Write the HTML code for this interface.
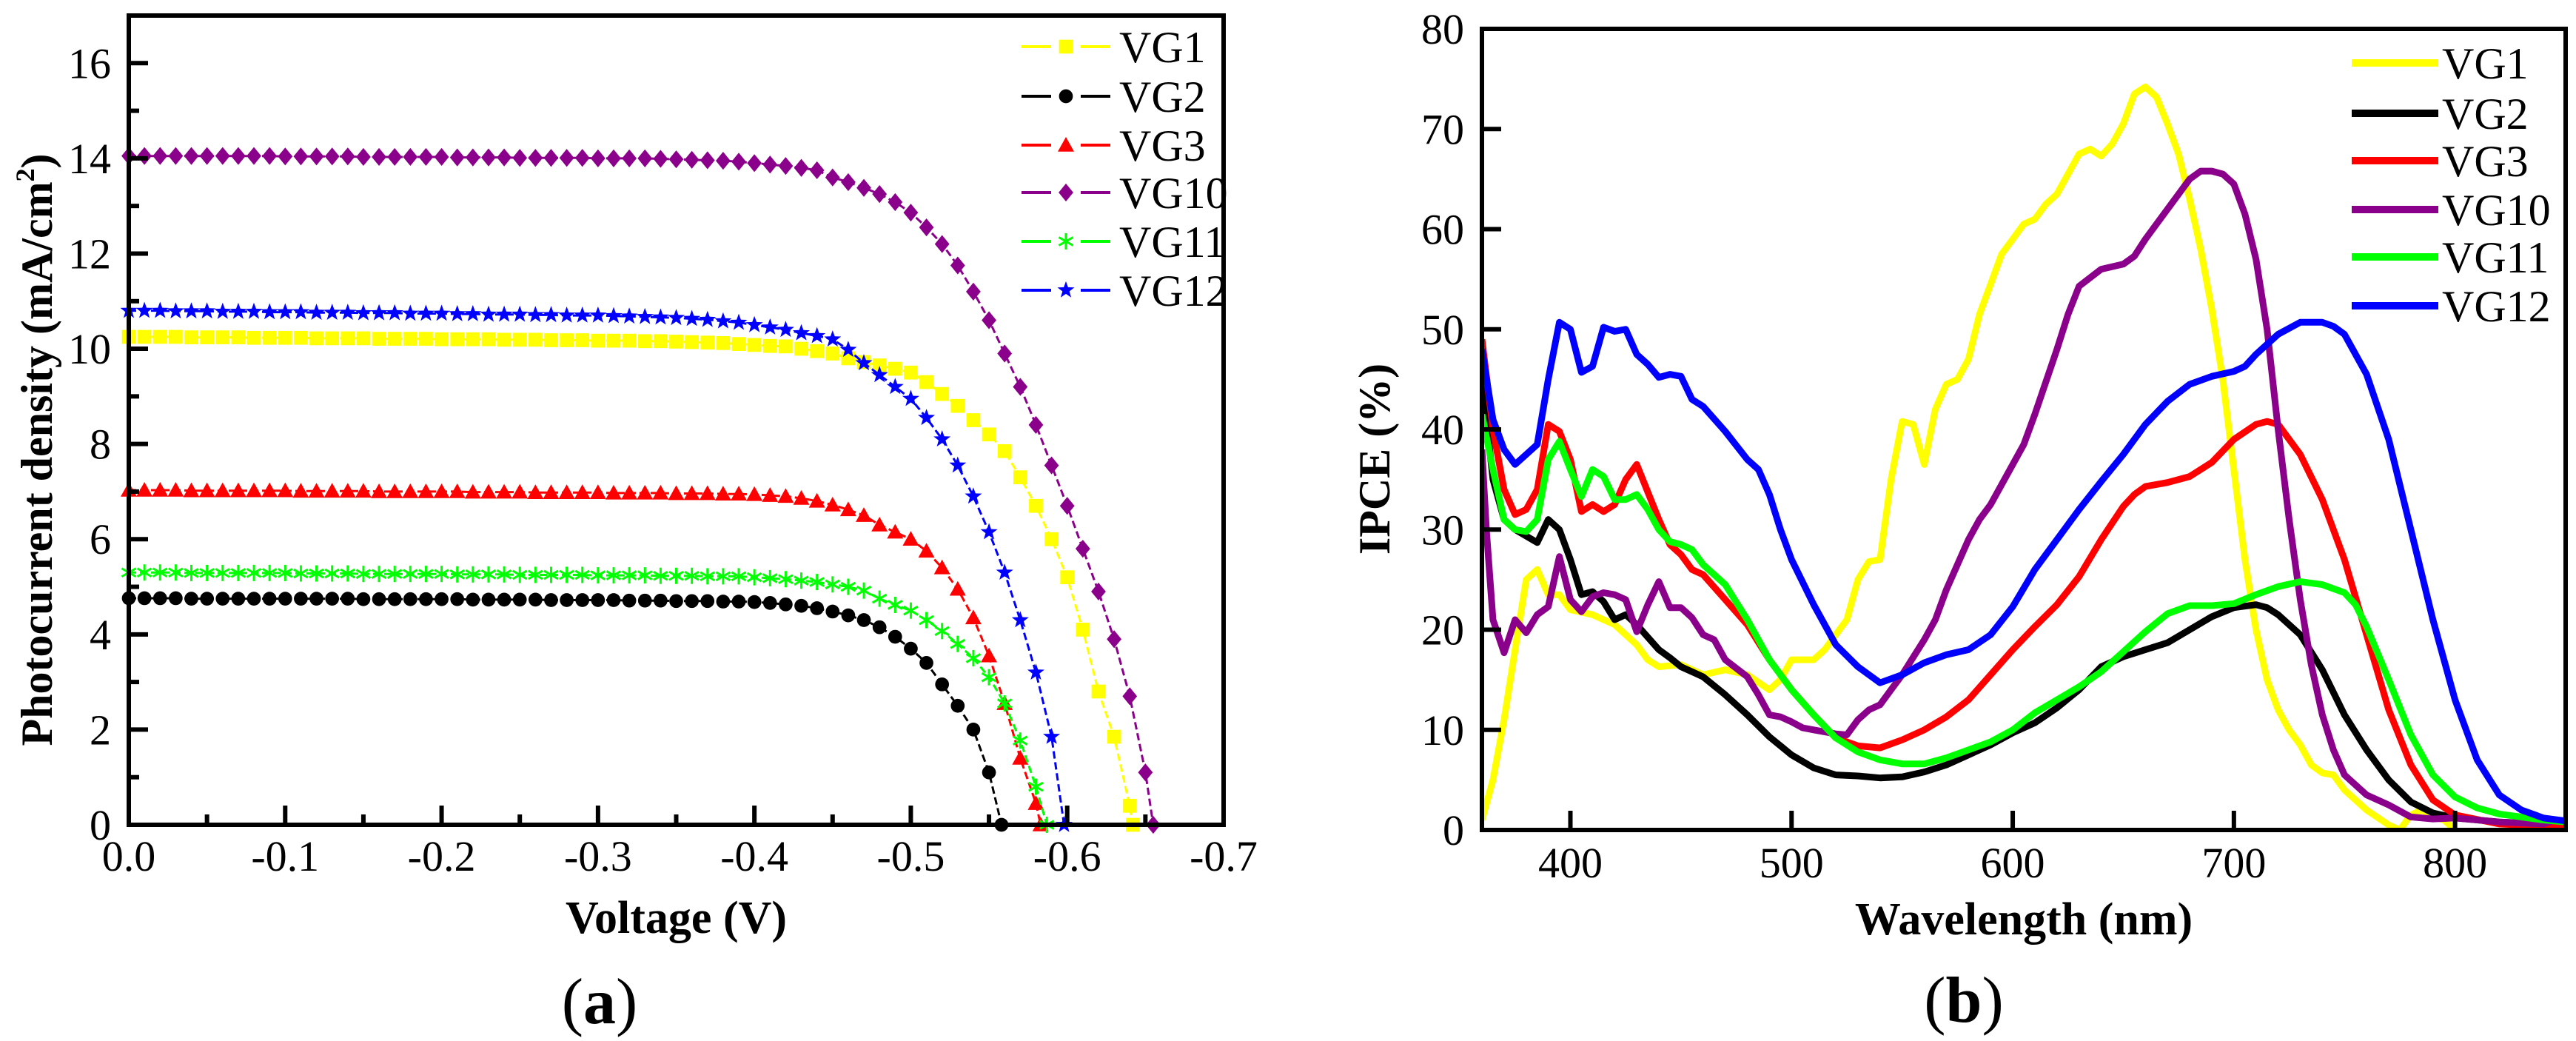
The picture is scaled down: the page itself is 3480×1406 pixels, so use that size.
<!DOCTYPE html>
<html><head><meta charset="utf-8">
<style>
html,body{margin:0;padding:0;background:#fff;}
svg{display:block;}
svg text{font-family:"Liberation Serif","Noto Serif CJK SC","DejaVu Serif",serif;fill:#000;}
</style></head>
<body>
<svg id="fig" width="3480" height="1406" viewBox="0 0 3480 1406" xmlns="http://www.w3.org/2000/svg"></svg>
<script>
// ---------- Panel (a) data: J-V curves ----------
const jvNames = ["VG1","VG2","VG3","VG10","VG11","VG12"];
const jvColors = ["#ffff00","#000000","#ff0000","#8b008b","#00ff00","#0000ff"];
const jvMarkers = ["square","circle","triangle","diamond","star6","star5"];
const jvVgrid = [0,-0.01,-0.02,-0.03,-0.04,-0.05,-0.06,-0.07,-0.08,-0.09,-0.1,-0.11,-0.12,-0.13,-0.14,-0.15,-0.16,-0.17,-0.18,-0.19,-0.2,-0.21,-0.22,-0.23,-0.24,-0.25,-0.26,-0.27,-0.28,-0.29,-0.3,-0.31,-0.32,-0.33,-0.34,-0.35,-0.36,-0.37,-0.38,-0.39,-0.4,-0.41,-0.42,-0.43,-0.44,-0.45,-0.46,-0.47,-0.48,-0.49,-0.5,-0.51,-0.52,-0.53,-0.54,-0.55,-0.56,-0.57,-0.58,-0.59,-0.6,-0.61,-0.62,-0.63,-0.64,-0.65];
const jvJ_VG1 = [10.25,10.25,10.25,10.25,10.24,10.24,10.24,10.24,10.23,10.23,10.23,10.23,10.22,10.22,10.22,10.22,10.21,10.21,10.21,10.21,10.2,10.2,10.2,10.2,10.19,10.19,10.19,10.18,10.18,10.18,10.17,10.17,10.17,10.16,10.16,10.15,10.14,10.13,10.12,10.1,10.08,10.06,10.05,10.0,9.95,9.9,9.8,9.72,9.65,9.58,9.5,9.3,9.05,8.8,8.5,8.2,7.85,7.3,6.7,6.0,5.2,4.1,2.8,1.85,0.4];
const jvJ_VG2 = [4.76,4.76,4.76,4.76,4.75,4.75,4.75,4.75,4.75,4.75,4.75,4.75,4.75,4.75,4.75,4.74,4.74,4.74,4.74,4.74,4.74,4.74,4.73,4.73,4.73,4.73,4.73,4.72,4.72,4.72,4.72,4.72,4.71,4.71,4.71,4.7,4.7,4.7,4.69,4.69,4.68,4.66,4.63,4.6,4.55,4.48,4.4,4.3,4.15,3.95,3.7,3.4,2.95,2.5,2.0,1.1];
const jvJ_VG3 = [7.03,7.03,7.03,7.03,7.02,7.02,7.02,7.02,7.02,7.02,7.02,7.01,7.01,7.01,7.01,7.01,7.0,7.0,7.0,7.0,7.0,7.0,6.99,6.99,6.99,6.99,6.98,6.98,6.98,6.98,6.98,6.97,6.97,6.97,6.97,6.96,6.96,6.96,6.95,6.95,6.94,6.92,6.9,6.86,6.8,6.72,6.62,6.5,6.3,6.15,6.0,5.75,5.4,4.95,4.35,3.55,2.55,1.4,0.45];
const jvJ_VG10 = [14.05,14.05,14.05,14.05,14.05,14.05,14.05,14.05,14.05,14.05,14.04,14.04,14.04,14.04,14.04,14.03,14.03,14.03,14.03,14.03,14.03,14.02,14.02,14.02,14.02,14.01,14.01,14.01,14.01,14.01,14.0,14.0,14.0,14.0,13.99,13.98,13.97,13.96,13.95,13.93,13.9,13.87,13.84,13.8,13.75,13.6,13.5,13.38,13.25,13.08,12.86,12.55,12.2,11.75,11.2,10.6,9.9,9.2,8.4,7.55,6.7,5.8,4.9,3.9,2.7,1.1];
const jvJ_VG11 = [5.3,5.3,5.3,5.3,5.29,5.29,5.29,5.29,5.29,5.29,5.29,5.28,5.28,5.28,5.28,5.27,5.27,5.27,5.27,5.27,5.27,5.26,5.26,5.26,5.26,5.25,5.25,5.25,5.25,5.25,5.24,5.24,5.24,5.24,5.23,5.23,5.23,5.22,5.22,5.22,5.2,5.18,5.16,5.13,5.1,5.05,5.0,4.92,4.75,4.62,4.5,4.3,4.07,3.8,3.5,3.1,2.55,1.77,0.8];
const jvJ_VG12 = [10.8,10.8,10.8,10.79,10.79,10.79,10.78,10.78,10.78,10.77,10.77,10.77,10.76,10.76,10.76,10.75,10.75,10.75,10.74,10.74,10.74,10.73,10.73,10.72,10.72,10.72,10.71,10.71,10.7,10.7,10.7,10.69,10.68,10.67,10.66,10.65,10.63,10.61,10.58,10.55,10.5,10.45,10.4,10.33,10.27,10.2,9.98,9.7,9.45,9.2,8.95,8.55,8.1,7.55,6.9,6.15,5.3,4.3,3.2,1.85];
const jvVoc = [-0.642,-0.558,-0.583,-0.655,-0.587,-0.598];
const jvJs = [jvJ_VG1,jvJ_VG2,jvJ_VG3,jvJ_VG10,jvJ_VG11,jvJ_VG12];
const jvXTicks = [0,-0.1,-0.2,-0.3,-0.4,-0.5,-0.6,-0.7];
const jvXTickLabels = ["0.0","-0.1","-0.2","-0.3","-0.4","-0.5","-0.6","-0.7"];
const jvYTicks = [0,2,4,6,8,10,12,14,16];

// ---------- Panel (b) data: IPCE ----------
const ipNames = ["VG1","VG2","VG3","VG10","VG11","VG12"];
const ipColors = ["#ffff00","#000000","#ff0000","#8b008b","#00ff00","#0000ff"];
const ipW_VG1 = [360,365,370,375,380,385,390,395,400,410,420,430,435,440,450,460,470,480,490,495,500,510,515,520,525,530,535,540,545,550,555,560,565,570,575,580,585,590,595,600,605,610,615,620,625,630,635,640,645,650,655,660,665,670,675,680,685,690,695,700,705,710,715,720,725,730,735,740,745,750,760,770,775,780,785,790,795,800];
const ipY_VG1 = [1,5,11,18,25,26,23.5,23.5,22,21.5,20.5,18.5,17,16.3,16.5,15.5,16,15.5,14,15,17,17,18,19.5,21,25,26.8,27,35,40.8,40.5,36.5,42,44.5,45,47,51.5,54.5,57.5,59,60.5,61,62.5,63.5,65.5,67.5,68,67.3,68.5,70.5,73.5,74.2,73.2,70.5,67.5,63,58,52,45,36,27,20,15,12,10,8.5,6.5,5.7,5.5,4,2,0.5,0,1.5,2,1.3,1,0];
const ipW_VG2 = [360,365,370,375,385,390,395,400,405,410,415,420,425,430,440,445,450,460,470,480,490,500,510,520,530,540,550,560,570,580,590,600,610,620,630,640,650,660,670,680,690,700,710,715,720,730,740,750,760,770,780,790,800,820,850];
const ipY_VG2 = [45,35,31,30,28.7,31,30,27,23.5,23.8,22.8,21,21.5,20.5,18,17.2,16.3,15.3,13.5,11.5,9.3,7.5,6.2,5.5,5.4,5.2,5.3,5.8,6.5,7.5,8.5,9.7,10.7,12.2,14,16.3,17.3,18,18.7,20,21.3,22.2,22.5,22.2,21.5,19.5,16,11.5,8,5,2.8,1.7,1.2,0.8,0.5];
const ipW_VG3 = [360,365,370,375,380,385,390,395,400,405,410,415,420,425,430,440,445,450,455,460,470,480,490,500,510,520,530,540,550,560,570,580,590,600,610,620,630,640,650,655,660,670,680,690,700,710,715,720,730,740,750,760,770,780,790,800,820,850];
const ipY_VG3 = [49,40,34,31.5,32,34,40.5,39.8,37,31.8,32.5,31.8,32.5,35,36.5,31,28.5,27.5,26,25.5,23,20.5,17,14,11.5,9.2,8.4,8.2,9,10,11.3,13,15.5,18,20.3,22.5,25.3,29,32.3,33.5,34.3,34.7,35.3,36.7,39,40.5,40.8,40.5,37.5,33,27,19.5,12,6.5,3,1.5,0.6,0.3];
const ipW_VG10 = [360,362,365,370,375,380,385,390,395,400,405,410,415,420,425,430,435,440,445,450,455,460,465,470,480,485,490,495,500,505,510,520,525,530,535,540,545,550,560,565,570,580,585,590,600,605,610,620,625,630,640,650,655,660,670,680,685,690,695,700,705,710,715,720,725,730,735,740,745,750,760,770,780,790,800,820,840,845,850];
const ipY_VG10 = [38,30,21,17.7,21,19.7,21.5,22.3,27.3,23,21.8,23.3,23.7,23.5,23,19.8,22.5,24.8,22.2,22.2,21.2,19.5,19,17,15.3,13.5,11.5,11.3,10.8,10.2,10,9.6,9.5,11,12,12.5,14,15.5,19,21,24,29,31,32.5,36.5,38.5,41.5,48,51.5,54.3,56,56.5,57.3,59,62,65,65.8,65.8,65.5,64.5,61.5,57,50,40,31,23,16.5,11.5,8,5.5,3.5,2.5,1.3,1.1,1.2,0.8,0.6,1,0.8];
const ipW_VG11 = [360,365,370,375,380,385,390,395,400,405,410,415,420,425,430,435,440,445,450,455,460,470,480,490,500,510,520,530,540,550,560,570,580,590,600,610,620,630,640,650,660,670,680,690,700,710,720,730,740,750,755,760,770,780,790,800,810,820,840,850];
const ipY_VG11 = [41.5,36,31,30,29.8,31,37,38.8,36,33.3,36,35.3,33,33,33.5,32,30,28.8,28.5,28,26.5,24.5,21,17,14,11.5,9.2,7.8,7,6.6,6.6,7.2,8,8.8,10,11.7,13,14.3,15.8,17.8,19.8,21.6,22.4,22.4,22.6,23.5,24.3,24.8,24.5,23.7,22.5,20.3,15,9.5,5.5,3.3,2.2,1.6,1,0.8];
const ipW_VG12 = [360,365,370,375,380,385,390,395,400,405,410,415,420,425,430,435,440,445,450,455,460,470,480,485,490,495,500,510,520,530,540,550,560,570,580,590,600,610,620,630,640,650,660,670,680,690,700,705,710,720,730,740,745,750,760,770,780,790,800,810,820,830,840,850];
const ipY_VG12 = [48,41,38,36.5,37.5,38.5,45,50.7,50,45.7,46.3,50.2,49.8,50,47.5,46.5,45.2,45.5,45.3,43,42.3,39.8,37,36,33.5,30,27,22.5,18.5,16.3,14.7,15.5,16.7,17.5,18,19.5,22.3,26,29,32,34.8,37.5,40.5,42.8,44.5,45.3,45.8,46.3,47.5,49.5,50.7,50.7,50.3,49.5,45.5,39,30,21,13,7,3.5,2,1.2,0.9];
const ipWs = [ipW_VG1,ipW_VG2,ipW_VG3,ipW_VG10,ipW_VG11,ipW_VG12];
const ipYs = [ipY_VG1,ipY_VG2,ipY_VG3,ipY_VG10,ipY_VG11,ipY_VG12];
const ipXTicks = [400,500,600,700,800];
const ipYTicks = [0,10,20,30,40,50,60,70,80];

const NS = "http://www.w3.org/2000/svg";
const svg = document.getElementById("fig");
function mk(tag, attrs, parent){
  const e = document.createElementNS(NS, tag);
  for (const k in attrs) e.setAttribute(k, attrs[k]);
  (parent||svg).appendChild(e);
  return e;
}
function drawMarker(type,x,y,r,c,parent){
  if(type==="square") return mk("rect",{x:x-r*0.85,y:y-r*0.85,width:r*1.7,height:r*1.7,fill:c},parent);
  if(type==="circle") return mk("circle",{cx:x,cy:y,r:r*0.85,fill:c},parent);
  if(type==="triangle") return mk("polygon",{points:`${x},${y-r} ${x-r},${y+r*0.8} ${x+r},${y+r*0.8}`,fill:c},parent);
  if(type==="diamond") return mk("polygon",{points:`${x},${y-r*1.1} ${x+r*0.9},${y} ${x},${y+r*1.1} ${x-r*0.9},${y}`,fill:c},parent);
  if(type==="star6"){
    const g=mk("g",{stroke:c,"stroke-width":3},parent);
    for(let k=0;k<3;k++){const a=Math.PI/3*k+Math.PI/2;mk("line",{x1:x+r*Math.cos(a),y1:y+r*Math.sin(a),x2:x-r*Math.cos(a),y2:y-r*Math.sin(a)},g);}
    return g;
  }
  let p=[];for(let k=0;k<10;k++){const a=-Math.PI/2+k*Math.PI/5;const rr=k%2?r*0.45:r*1.1;p.push((x+rr*Math.cos(a)).toFixed(1)+","+(y+rr*Math.sin(a)).toFixed(1));}
  return mk("polygon",{points:p.join(" "),fill:c},parent);
}

// ----- panel (a) axes -----
const aL=174, aR=1653, aT=21, aB=1114;
const ax = v => aL + (v/ -0.7)*(aR-aL);
const ay = j => aB - (j/17)*(aB-aT);
const gA = mk("g",{});



for (let s=0;s<jvNames.length;s++){
  const g = mk("g",{},gA);
  
  
  const Js = jvJs[s];
  const pts = Js.map((j,i)=>ax(jvVgrid[i]).toFixed(1)+","+ay(j).toFixed(1));
  pts.push(ax(jvVoc[s]).toFixed(1)+","+ay(0).toFixed(1));
  const pl = mk("polyline",{points:pts.join(" "),fill:"none",stroke:jvColors[s],"stroke-width":3,"stroke-dasharray":"10,5"},g);
  
  
  for (let i=0;i<Js.length;i++){
    const m = drawMarker(jvMarkers[s], ax(jvVgrid[i]), ay(Js[i]), 11, jvColors[s], g);
    
    
  }
  const m2 = drawMarker(jvMarkers[s], ax(jvVoc[s]), ay(0), 11, jvColors[s], g);
  
  
}

const frA = mk("rect",{x:aL,y:aT,width:aR-aL,height:aB-aT,fill:"none",stroke:"#000","stroke-width":6},gA);


for (let i=0;i<jvXTicks.length;i++){
  const x=ax(jvXTicks[i]);
  mk("line",{x1:x,y1:aB,x2:x,y2:aB-26,stroke:"#000","stroke-width":6},gA);
  if(i<jvXTicks.length-1){const xm=ax(jvXTicks[i]-0.05);mk("line",{x1:xm,y1:aB,x2:xm,y2:aB-14,stroke:"#000","stroke-width":6},gA);}
  const t=mk("text",{x:x,y:aB+62,"font-size":58,"text-anchor":"middle"},gA);
  t.textContent=jvXTickLabels[i];
  
  
}
for (let i=0;i<jvYTicks.length;i++){
  const y=ay(jvYTicks[i]);
  mk("line",{x1:aL,y1:y,x2:aL+26,y2:y,stroke:"#000","stroke-width":6},gA);
  const ym=ay(jvYTicks[i]+1);mk("line",{x1:aL,y1:ym,x2:aL+14,y2:ym,stroke:"#000","stroke-width":6},gA);
  const t=mk("text",{x:aL-24,y:y+20,"font-size":58,"text-anchor":"end"},gA);
  t.textContent=jvYTicks[i];
  
  
}
const xtA=mk("text",{x:(aL+aR)/2,y:1260,"font-size":62,"font-weight":"bold","text-anchor":"middle"},gA);
xtA.textContent="Voltage (V)";


const ytA=mk("text",{x:0,y:0,"font-size":60,"font-weight":"bold","text-anchor":"middle",transform:`translate(70,${(aT+aB)/2+40}) rotate(-90)`},gA);
ytA.innerHTML='Photocurrent density (mA/cm<tspan dy="-24" font-size="36">2</tspan><tspan dy="24">)</tspan>';


const capA=mk("text",{x:810,y:1382,"font-size":88,"text-anchor":"middle"},gA);
capA.innerHTML='(<tspan font-weight="bold">a</tspan>)';



const legAy=[63,130,196,260,326,392];
for(let s=0;s<jvNames.length;s++){
  const g=mk("g",{},gA);
  
  
  const y=legAy[s];
  mk("line",{x1:1380,y1:y,x2:1420,y2:y,stroke:jvColors[s],"stroke-width":4},g);
  mk("line",{x1:1460,y1:y,x2:1500,y2:y,stroke:jvColors[s],"stroke-width":4},g);
  drawMarker(jvMarkers[s],1440,y,11,jvColors[s],g);
  const t=mk("text",{x:1512,y:y+21,"font-size":60},g);
  t.textContent=jvNames[s];
}

// ----- panel (b) -----
const bL=2002, bR=3466, bT=39, bB=1121;
const bx = w => bL + (w-360)/(850-360)*(bR-bL);
const by = v => bB - (v/80)*(bB-bT);
const gB = mk("g",{});


const clip=mk("clipPath",{id:"cb"},gB);mk("rect",{x:bL,y:bT,width:bR-bL,height:bB-bT},clip);
for(let s=0;s<ipNames.length;s++){
  const pts=ipWs[s].map((w,i)=>bx(w).toFixed(1)+","+by(ipYs[s][i]).toFixed(1)).join(" ");
  const pl=mk("polyline",{points:pts,fill:"none",stroke:ipColors[s],"stroke-width":9,"stroke-linejoin":"round","clip-path":"url(#cb)"},gB);
  
  
}
const frB=mk("rect",{x:bL,y:bT,width:bR-bL,height:bB-bT,fill:"none",stroke:"#000","stroke-width":6},gB);


for(const w of ipXTicks){
  const x=bx(w);
  mk("line",{x1:x,y1:bB,x2:x,y2:bB-26,stroke:"#000","stroke-width":6},gB);
  const t=mk("text",{x:x,y:bB+64,"font-size":58,"text-anchor":"middle"},gB);
  t.textContent=w;
  
  
}
for(const v of ipYTicks){
  const y=by(v);
  mk("line",{x1:bL,y1:y,x2:bL+26,y2:y,stroke:"#000","stroke-width":6},gB);
  const t=mk("text",{x:bL-24,y:y+20,"font-size":58,"text-anchor":"end"},gB);
  t.textContent=v;
  
  
}
const xtB=mk("text",{x:(bL+bR)/2,y:1262,"font-size":62,"font-weight":"bold","text-anchor":"middle"},gB);
xtB.textContent="Wavelength (nm)";


const ytB=mk("text",{x:0,y:0,"font-size":60,"font-weight":"bold","text-anchor":"middle",transform:`translate(1877,${(bT+bB)/2+40}) rotate(-90)`},gB);
ytB.textContent="IPCE (%)";


const capB=mk("text",{x:2653,y:1380,"font-size":88,"text-anchor":"middle"},gB);
capB.innerHTML='(<tspan font-weight="bold">b</tspan>)';


const legBy=[85,153,217,283,347,413];
for(let s=0;s<ipNames.length;s++){
  const g=mk("g",{},gB);
  
  
  mk("line",{x1:3177,y1:legBy[s],x2:3294,y2:legBy[s],stroke:ipColors[s],"stroke-width":10},g);
  const t=mk("text",{x:3299,y:legBy[s]+21,"font-size":60},g);
  t.textContent=ipNames[s];
}
</script>
</body></html>
